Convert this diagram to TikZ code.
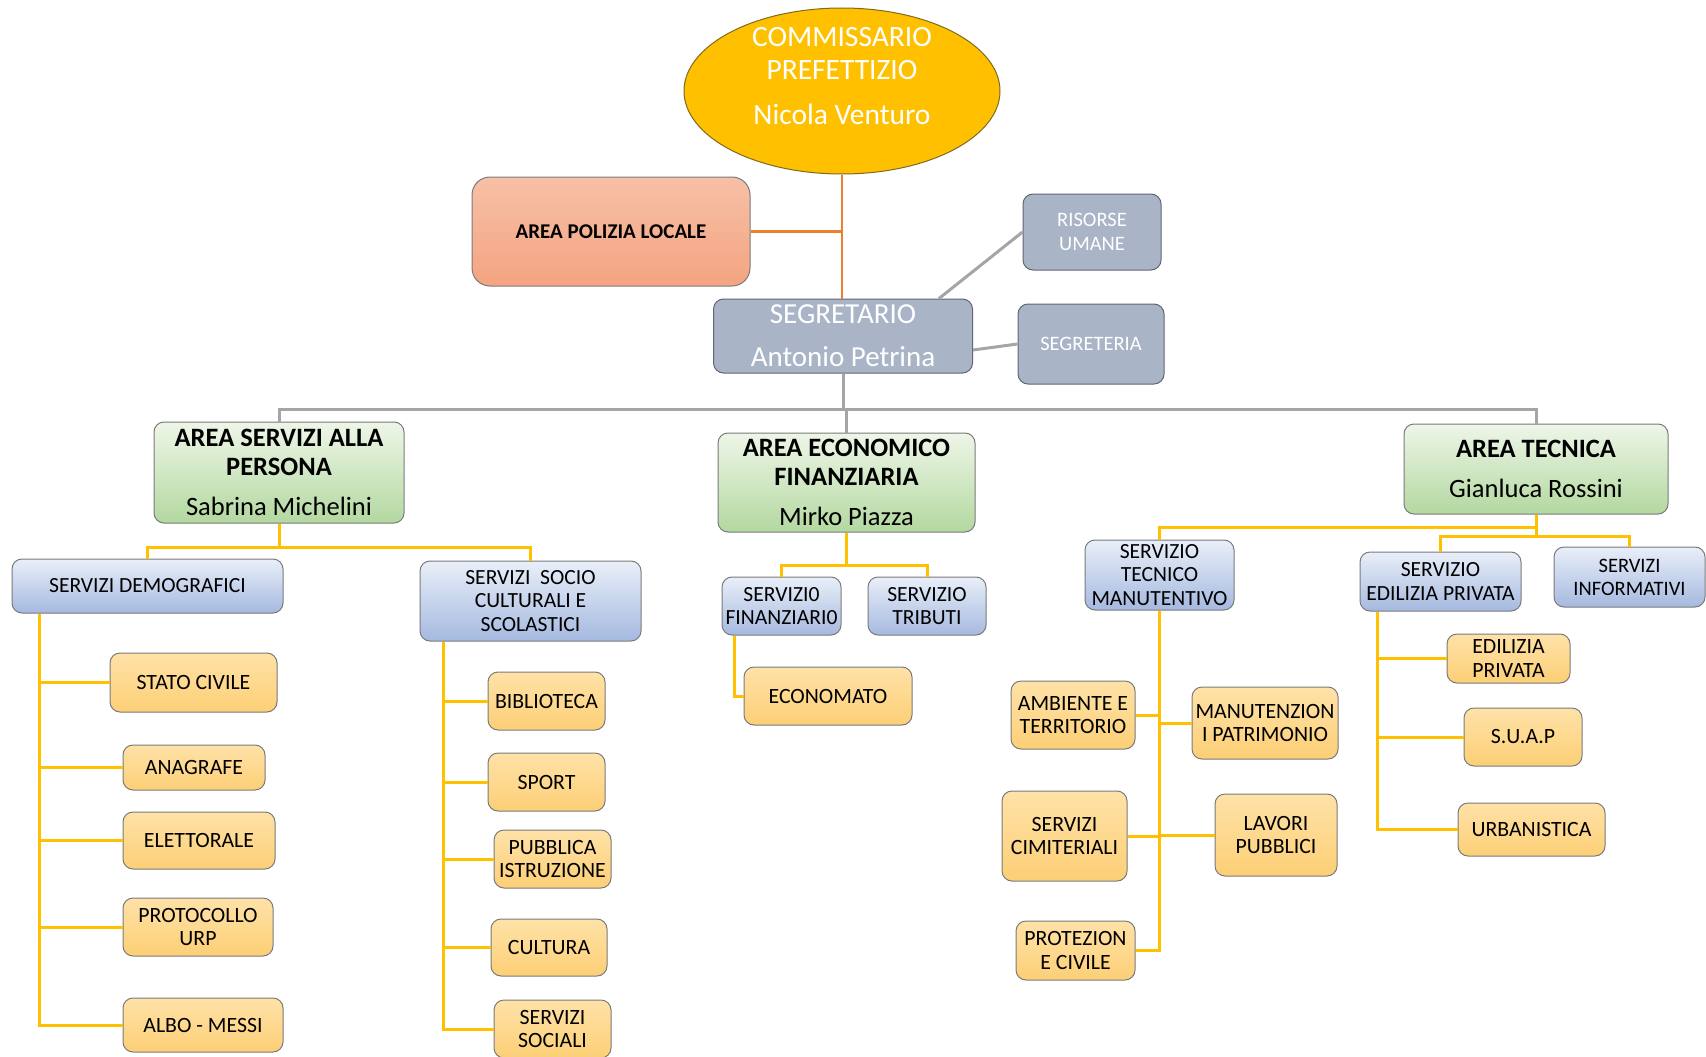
\documentclass[tikz,border=0pt]{standalone}
\usepackage{fontspec}
\setmainfont{Carlito}
\usetikzlibrary{shapes.geometric,calc}
\definecolor{ellF}{HTML}{FFC000}
\definecolor{ellB}{HTML}{7F6A1E}
\definecolor{polT}{HTML}{F7C0A6}
\definecolor{polB}{HTML}{F4A481}
\definecolor{gryF}{HTML}{A9B4C7}
\definecolor{gryB}{HTML}{5F6675}
\definecolor{grnT}{HTML}{EEF6E8}
\definecolor{grnB}{HTML}{B3D8A0}
\definecolor{bluT}{HTML}{E9EFF9}
\definecolor{bluB}{HTML}{A5B9DF}
\definecolor{leafT}{HTML}{FFE2A8}
\definecolor{leafB}{HTML}{FCCF76}
\definecolor{boxB}{HTML}{7A7A7A}
\definecolor{ylw}{HTML}{FFC000}
\definecolor{gln}{HTML}{A5A5A5}
\definecolor{orn}{HTML}{ED7D31}
\tikzset{
  box/.style={draw=boxB, rounded corners=10pt, line width=1pt, align=center, inner sep=2pt, text=black},
  leaf/.style={box, top color=leafT, bottom color=leafB, font=\fontsize{21.8}{23.5}\selectfont},
  blu/.style={box, top color=bluT, bottom color=bluB, font=\fontsize{21.6}{23.5}\selectfont},
  grn/.style={box, top color=grnT, bottom color=grnB, font=\fontsize{26.5}{29}\selectfont},
  gry/.style={box, fill=gryF, draw=gryB, text=white, font=\fontsize{20.5}{24}\selectfont},
  yl/.style={draw=ylw, line width=3pt},
  gl/.style={draw=gln, line width=3pt},
  ol/.style={draw=orn, line width=2.5pt},
}
\begin{document}
\begin{tikzpicture}[x=1pt,y=-1pt]
\useasboundingbox (0,0) rectangle (1706,1057);
% top
\node[ellipse, draw=ellB, line width=1pt, fill=ellF, minimum width=316, minimum height=166, inner sep=0pt] (ell) at (842,91) {};
\node[text=white, align=center, font=\fontsize{29.5}{33}\selectfont] (ellt) at (842,76) {COMMISSARIO\\PREFETTIZIO\\[12pt]Nicola Venturo};
\node[box, top color=polT, bottom color=polB, rounded corners=18pt, minimum width=278, minimum height=109, font=\fontsize{21}{24}\selectfont\bfseries] (pol) at (611,231.5) {AREA POLIZIA LOCALE};
\node[gry, minimum width=138, minimum height=76] (ris) at (1092,232) {RISORSE\\UMANE};
\node[gry, minimum width=146, minimum height=80] (sgr) at (1091,344) {SEGRETERIA};
\node[gry, minimum width=259, minimum height=74, font=\fontsize{29}{33}\selectfont] (seg) at (843,336) {SEGRETARIO\\[10pt]Antonio Petrina};
% areas
\node[grn, minimum width=250, minimum height=101] (asp) at (279,472.5) {\bfseries AREA SERVIZI ALLA\\\bfseries PERSONA\\[11pt]Sabrina Michelini};
\node[grn, minimum width=257, minimum height=99] (aef) at (846.5,482.5) {\bfseries AREA ECONOMICO\\\bfseries FINANZIARIA\\[11pt]Mirko Piazza};
\node[grn, minimum width=264, minimum height=90] (at) at (1536,469) {\bfseries AREA TECNICA\\[11pt]Gianluca Rossini};
% second level
\node[blu, minimum width=271, minimum height=54] (sd) at (147.5,586) {SERVIZI DEMOGRAFICI};
\node[blu, minimum width=221, minimum height=80] (ssc) at (530.5,601) {SERVIZI\ \ SOCIO\\CULTURALI E\\SCOLASTICI};
\node[blu, minimum width=119, minimum height=58] (fin) at (781.5,606) {SERVIZI0\\FINANZIARI0};
\node[blu, minimum width=118, minimum height=58] (trib) at (927,606) {SERVIZIO\\TRIBUTI};
\node[blu, minimum width=149, minimum height=70] (stm) at (1159.5,575) {SERVIZIO\\TECNICO\\MANUTENTIVO};
\node[blu, minimum width=161, minimum height=59] (sep) at (1440.5,581.5) {SERVIZIO\\EDILIZIA PRIVATA};
\node[blu, minimum width=151, minimum height=60, font=\fontsize{20.5}{23}\selectfont] (si) at (1629.5,577) {SERVIZI\\INFORMATIVI};
% leaves left
\node[leaf, minimum width=167, minimum height=59] (stato) at (193.5,682.5) {STATO CIVILE};
\node[leaf, minimum width=142, minimum height=45] (anag) at (194,767.5) {ANAGRAFE};
\node[leaf, minimum width=152, minimum height=57] (elet) at (199,840.5) {ELETTORALE};
\node[leaf, minimum width=150, minimum height=58] (prot) at (198,927) {PROTOCOLLO\\URP};
\node[leaf, minimum width=160, minimum height=54] (albo) at (203,1025) {ALBO - MESSI};
\node[leaf, minimum width=117, minimum height=58] (bibl) at (546.5,701) {BIBLIOTECA};
\node[leaf, minimum width=117, minimum height=58] (sport) at (546.5,782) {SPORT};
\node[leaf, minimum width=117, minimum height=58] (pubb) at (552.5,859) {PUBBLICA\\ISTRUZIONE};
\node[leaf, minimum width=116, minimum height=57] (cult) at (549,947.5) {CULTURA};
\node[leaf, minimum width=117, minimum height=58] (soc) at (552.5,1029) {SERVIZI\\SOCIALI};
\node[leaf, minimum width=168, minimum height=58] (econ) at (828,696) {ECONOMATO};
% leaves right
\node[leaf, minimum width=124, minimum height=68] (amb) at (1073,715) {AMBIENTE E\\TERRITORIO};
\node[leaf, minimum width=146, minimum height=72] (man) at (1265,723) {MANUTENZION\\I PATRIMONIO};
\node[leaf, minimum width=125, minimum height=90] (cim) at (1064.5,836) {SERVIZI\\CIMITERIALI};
\node[leaf, minimum width=122, minimum height=82] (lav) at (1276,835) {LAVORI\\PUBBLICI};
\node[leaf, minimum width=119, minimum height=59] (pciv) at (1075.5,950.5) {PROTEZION\\E CIVILE};
\node[leaf, minimum width=123, minimum height=49] (edil) at (1508.5,658.5) {EDILIZIA\\PRIVATA};
\node[leaf, minimum width=118, minimum height=58] (suap) at (1523,737) {S.U.A.P};
\node[leaf, minimum width=147, minimum height=53] (urb) at (1531.5,829.5) {URBANISTICA};
% helper coordinates
\coordinate (gbus) at (0,409);
\coordinate (abus) at (0,547);
\coordinate (ebus) at (0,565);
\coordinate (tb1) at (0,527);
\coordinate (tb2) at (0,536);
\coordinate (sdv) at (39,0);
\coordinate (sscv) at (443,0);
\coordinate (finv) at (734,0);
\coordinate (sepv) at (1377,0);
% connectors
\draw[ol] (ell.south) -- (ell.south |- seg.north);
\draw[ol] (pol.east) -- (pol.east -| ell.south);
\draw[gl] ($(seg.north east)+(-34,0)$) -- (ris.west);
\draw[gl] ($(seg.east)+(0,14)$) -- (sgr.west);
\draw[gl] (seg.south) -- (seg.south |- gbus);
\draw[gl] (asp.north) |- (at.north |- gbus) -- (at.north);
\draw[gl] (aef.north) -- (aef.north |- gbus);
% area servizi
\draw[yl] (asp.south) -- (asp.south |- abus);
\draw[yl] (sd.north) |- (ssc.north |- abus) -- (ssc.north);
\draw[yl] (sd.south -| sdv) |- (stato.west);
\draw[yl] (sd.south -| sdv) |- (anag.west);
\draw[yl] (sd.south -| sdv) |- (elet.west);
\draw[yl] (sd.south -| sdv) |- (prot.west);
\draw[yl] (sd.south -| sdv) |- (albo.west);
\draw[yl] (ssc.south -| sscv) |- (bibl.west);
\draw[yl] (ssc.south -| sscv) |- (sport.west);
\draw[yl] (ssc.south -| sscv) |- (pubb.west);
\draw[yl] (ssc.south -| sscv) |- (cult.west);
\draw[yl] (ssc.south -| sscv) |- (soc.west);
% economico
\draw[yl] (aef.south) -- (aef.south |- ebus);
\draw[yl] (fin.north) |- (trib.north |- ebus) -- (trib.north);
\draw[yl] (fin.south -| finv) |- (econ.west);
% tecnica
\draw[yl] (at.south) -- (at.south |- tb2);
\draw[yl] (stm.north) |- (at.south |- tb1);
\draw[yl] (sep.north) |- (si.north |- tb2) -- (si.north);
\draw[yl] (stm.south) |- (amb.east);
\draw[yl] (stm.south) |- (man.west);
\draw[yl] (stm.south) |- (cim.east);
\draw[yl] (stm.south) |- (lav.west);
\draw[yl] (stm.south) |- (pciv.east);
\draw[yl] (sep.south -| sepv) |- (edil.west);
\draw[yl] (sep.south -| sepv) |- (suap.west);
\draw[yl] (sep.south -| sepv) |- (urb.west);
\end{tikzpicture}
\end{document}
